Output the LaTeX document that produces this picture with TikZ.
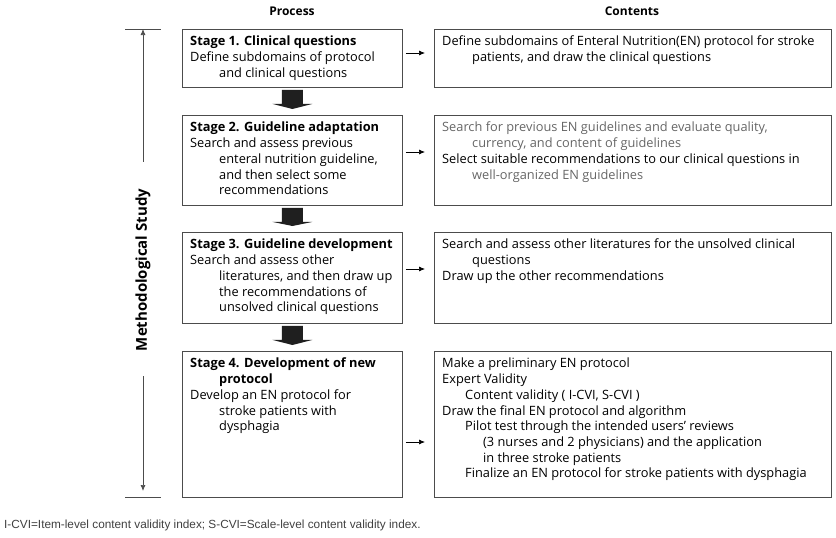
\documentclass[tikz,border=0pt]{standalone}
\usepackage{fontspec}
\setmainfont{Open Sans}
\newfontfamily\notefont{Liberation Sans}
\usetikzlibrary{arrows.meta,calc}

\begin{document}
\begin{tikzpicture}[
  x=1pt,
  y=-1pt,
  font=\fontsize{12.8}{15.7}\selectfont,
  box/.style={draw=black!70, line width=0.9pt, inner sep=0pt, anchor=north west},
  txt/.style={anchor=north west, align=left, inner sep=0pt},
  link/.style={-{Latex[length=6pt,width=5pt]}, line width=0.7pt},
  blk/.style={fill=black!88}
]
\useasboundingbox (0,0) rectangle (836,538);

\node[font=\bfseries\fontsize{12}{14}\selectfont] (hproc) at (292,11) {Process};
\node[font=\bfseries\fontsize{12}{14}\selectfont] (hcont) at (632,11) {Contents};

% process boxes
\node[box, minimum width=220pt, minimum height=58pt] (s1) at (182,29) {};
\node[box, minimum width=220pt, minimum height=90pt] (s2) at (182,115) {};
\node[box, minimum width=220pt, minimum height=91pt] (s3) at (182,232) {};
\node[box, minimum width=220pt, minimum height=146pt] (s4) at (182,351) {};

% contents boxes
\node[box, minimum width=397pt, minimum height=58pt] (c1) at (434,29) {};
\node[box, minimum width=397pt, minimum height=90pt] (c2) at (434,115) {};
\node[box, minimum width=397pt, minimum height=91pt] (c3) at (434,232) {};
\node[box, minimum width=397pt, minimum height=146pt] (c4) at (434,351) {};

% process texts
\node[txt] (t1) at ($(s1.north west)+(8,7)$) {\textbf{Stage 1. Clinical questions}\\
  Define subdomains of protocol\\
  \hspace*{29pt}and clinical questions};
\node[txt] (t2) at ($(s2.north west)+(8,7)$) {\textbf{Stage 2. Guideline adaptation}\\
  Search and assess previous\\
  \hspace*{29pt}enteral nutrition guideline,\\
  \hspace*{29pt}and then select some\\
  \hspace*{29pt}recommendations};
\node[txt] (t3) at ($(s3.north west)+(8,7)$) {\textbf{Stage 3. Guideline development}\\
  Search and assess other\\
  \hspace*{29pt}literatures, and then draw up\\
  \hspace*{29pt}the recommendations of\\
  \hspace*{29pt}unsolved clinical questions};
\node[txt] (t4) at ($(s4.north west)+(8,7)$) {\textbf{Stage 4. Development of new}\\
  \hspace*{29pt}\textbf{protocol}\\
  Develop an EN protocol for\\
  \hspace*{29pt}stroke patients with\\
  \hspace*{29pt}dysphagia};

% contents texts
\node[txt] (d1) at ($(c1.north west)+(8,7)$) {Define subdomains of Enteral Nutrition(EN) protocol for stroke\\
  \hspace*{30pt}patients, and draw the clinical questions};
\node[txt] (d2) at ($(c2.north west)+(8,7)$) {\color{black!60}Search for previous EN guidelines and evaluate quality,\\
  \hspace*{30pt}\color{black!60}currency, and content of guidelines\\
  Select suitable recommendations to our clinical questions in\\
  \hspace*{30pt}\color{black!60}well-organized EN guidelines};
\node[txt] (d3) at ($(c3.north west)+(8,7)$) {Search and assess other literatures for the unsolved clinical\\
  \hspace*{30pt}questions\\
  Draw up the other recommendations};
\node[txt] (d4) at ($(c4.north west)+(8,7)$) {Make a preliminary EN protocol\\
  Expert Validity\\
  \hspace*{23pt}Content validity ( I-CVI, S-CVI )\\
  Draw the final EN protocol and algorithm\\
  \hspace*{23pt}Pilot test through the intended users' reviews\\
  \hspace*{41pt}(3 nurses and 2 physicians) and the application\\
  \hspace*{41pt}in three stroke patients\\
  \hspace*{23pt}Finalize an EN protocol for stroke patients with dysphagia};

% links process -> contents
\draw[link] ($(s1.north east)+(3,24)$) -- ($(c1.north west)+(-9,24)$);
\draw[link] ($(s2.north east)+(3,37)$) -- ($(c2.north west)+(-9,37)$);
\draw[link] ($(s3.north east)+(3,37)$) -- ($(c3.north west)+(-9,37)$);
\draw[link] ($(s4.north east)+(3,91)$) -- ($(c4.north west)+(-9,91)$);

% block arrows between stages
\foreach \a/\b in {s1/s2, s2/s3, s3/s4} {
  \fill[blk] ($(\a.south)+(-10.5,2)$) -- ++(21,0) -- ++(0,14) -- ++(9.5,0)
    -- ($(\b.north)+(0,-6)$) -- ($(\a.south)+(-20,16)$) -- ++(9.5,0) -- cycle;
}

% methodological study span
\coordinate (top) at (143,29);
\coordinate (bot) at (143,497);
\node[rotate=90, inner sep=0pt, font=\bfseries\fontsize{15}{17}\selectfont] (ms) at (143,270) {Methodological Study};
\draw[black!70, line width=0.8pt] ($(top)+(-18,0)$) -- ($(top)+(18,0)$);
\draw[black!70, line width=0.8pt] ($(bot)+(-18,0)$) -- ($(bot)+(18,0)$);
\draw[link, black!70, shorten <=27pt] (ms.east) -- (top);
\draw[link, black!70, shorten <=25pt, shorten >=6pt] (ms.west) -- (bot);

\node[anchor=west, inner sep=0pt, text=black!75, font=\notefont\fontsize{11.8}{13}\selectfont] (note) at (4,525)
  {I-CVI=Item-level content validity index; S-CVI=Scale-level content validity index.};
\end{tikzpicture}
\end{document}
